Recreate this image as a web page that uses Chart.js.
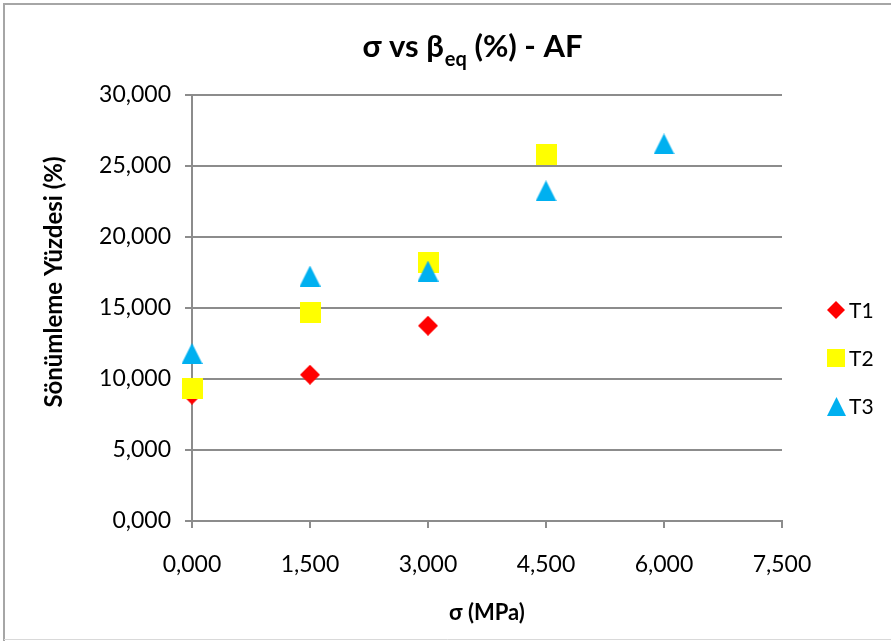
<!DOCTYPE html>
<html>
<head>
<meta charset="utf-8">
<script src="https://cdn.jsdelivr.net/npm/chart.js@4"></script>
<style>
  html, body { margin: 0; padding: 0; background: #fff; }
  #wrap { width: 891px; height: 641px; }
</style>
</head>
<body>
<div id="wrap"><canvas id="chart" width="891" height="641"></canvas></div>
<script>
// sigma (MPa) and damping ratio (%)
const sigma = [0, 1.5, 3, 4.5, 6];
const t1 = [8.9, 10.3, 13.75];
const t2 = [9.3, 14.65, 18.2, 25.8];
const t3 = [11.8, 17.25, 17.6, 23.25, 26.55];
const seriesNames = ["T1", "T2", "T3"];
const xTicks = [0, 1.5, 3, 4.5, 6, 7.5];
const yTicks = [0, 5, 10, 15, 20, 25, 30];

const fontFam = "Lato, 'Open Sans', sans-serif";
const gridColor = "#8c8c8c";
const colors = ["#ff0000", "#ffff00", "#00b0f0"];

function fmt(v){
  return Number(v).toFixed(3).replace(".", ",");
}

function marker(shape, size, color){
  let c = document.createElement("canvas");
  c.width = size; c.height = size;
  let g = c.getContext("2d");
  g.fillStyle = color;
  g.beginPath();
  if (shape === "diamond"){
    g.moveTo(size/2, 0); g.lineTo(size, size/2); g.lineTo(size/2, size); g.lineTo(0, size/2);
  } else if (shape === "square"){
    g.rect(0, 0, size, size);
  } else {
    g.moveTo(size/2, 0); g.lineTo(size, size); g.lineTo(0, size);
  }
  g.closePath();
  g.fill();
  return c;
}

function toPoints(ys){
  return ys.map((y, i) => ({x: sigma[i], y: y}));
}

const plotMarkers = [marker("diamond", 20, colors[0]), marker("square", 21, colors[1]), marker("triangle", 21, colors[2])];
const legendMarkers = [marker("diamond", 18, colors[0]), marker("square", 18, colors[1]), marker("triangle", 19, colors[2])];

const decor = {
  id: "decor",
  beforeDraw(chart){
    let c = chart.ctx;
    c.save();
    c.fillStyle = "#fff";
    c.fillRect(0, 0, chart.width, chart.height);
    c.strokeStyle = "#a6a6a6";
    c.lineWidth = 2;
    c.beginPath();
    c.moveTo(4, chart.height); c.lineTo(4, 4); c.lineTo(chart.width, 4);
    c.stroke();
    c.strokeStyle = "#d9d9d9";
    c.lineWidth = 1;
    c.beginPath();
    c.moveTo(4, 639.5); c.lineTo(chart.width, 639.5);
    c.stroke();
    c.restore();
  },
  afterDraw(chart){
    let c = chart.ctx;
    c.save();
    c.fillStyle = "#000";
    // title with subscript
    let big = "bold 31px " + fontFam, small = "bold 20px " + fontFam;
    let a = "σ vs β", sub = "eq", b = " (%) - AF";
    c.font = big; let wa = c.measureText(a).width, wb = c.measureText(b).width;
    c.font = small; let ws = c.measureText(sub).width;
    let x = 472 - (wa + ws + wb) / 2;
    c.textBaseline = "alphabetic";
    c.textAlign = "left";
    c.font = big; c.fillText(a, x, 57);
    c.font = small; c.fillText(sub, x + wa + 1, 66);
    c.font = big; c.fillText(b, x + wa + ws + 1, 57);
    // y axis title
    c.translate(54, 282);
    c.rotate(-Math.PI / 2);
    c.textAlign = "center";
    c.textBaseline = "middle";
    c.font = "bold 24px " + fontFam;
    c.fillText("Sönümleme Yüzdesi (%)", 0, 0);
    c.restore();
    // legend
    c.save();
    c.font = "21px " + fontFam;
    c.textBaseline = "middle";
    c.fillStyle = "#000";
    seriesNames.forEach((name, i) => {
      let ly = 310 + i * 48;
      let m = legendMarkers[i];
      c.drawImage(m, Math.round(836 - m.width / 2), Math.round(ly - m.height / 2));
      c.fillText(name, 849, ly + 1);
    });
    c.restore();
  }
};

const tickFont = {family: fontFam, size: 23};

new Chart(document.getElementById("chart"), {
  type: "scatter",
  data: {
    datasets: [
      {label: seriesNames[0], data: toPoints(t1), pointStyle: plotMarkers[0], pointRadius: 10, order: 3, clip: false},
      {label: seriesNames[1], data: toPoints(t2), pointStyle: plotMarkers[1], pointRadius: 10, order: 2, clip: false},
      {label: seriesNames[2], data: toPoints(t3), pointStyle: plotMarkers[2], pointRadius: 10, order: 1, clip: false}
    ]
  },
  options: {
    responsive: false,
    animation: false,
    layout: {padding: {top: 95, right: 109, bottom: 0, left: 0}},
    plugins: {legend: {display: false}, title: {display: false}, tooltip: {enabled: false}},
    scales: {
      x: {
        type: "linear", min: 0, max: 7.5,
        afterBuildTicks: s => { s.ticks = xTicks.map(v => ({value: v})); },
        ticks: {font: tickFont, color: "#000", padding: 23, callback: v => fmt(v)},
        grid: {drawOnChartArea: false, tickLength: 7, color: gridColor, lineWidth: 2},
        border: {color: gridColor, width: 2},
        title: {display: true, text: "σ (MPa)", color: "#000", font: {family: fontFam, size: 22, weight: "bold"}, padding: {top: 0, bottom: 15}},
        afterFit: s => { s.height = 120; }
      },
      y: {
        min: 0, max: 30,
        afterBuildTicks: s => { s.ticks = yTicks.map(v => ({value: v})); },
        ticks: {font: tickFont, color: "#000", padding: 14, callback: v => fmt(v)},
        grid: {tickLength: 7, color: gridColor, lineWidth: 2},
        border: {color: gridColor, width: 2},
        afterFit: s => { s.width = 192; }
      }
    }
  },
  plugins: [decor]
});
</script>
</body>
</html>
